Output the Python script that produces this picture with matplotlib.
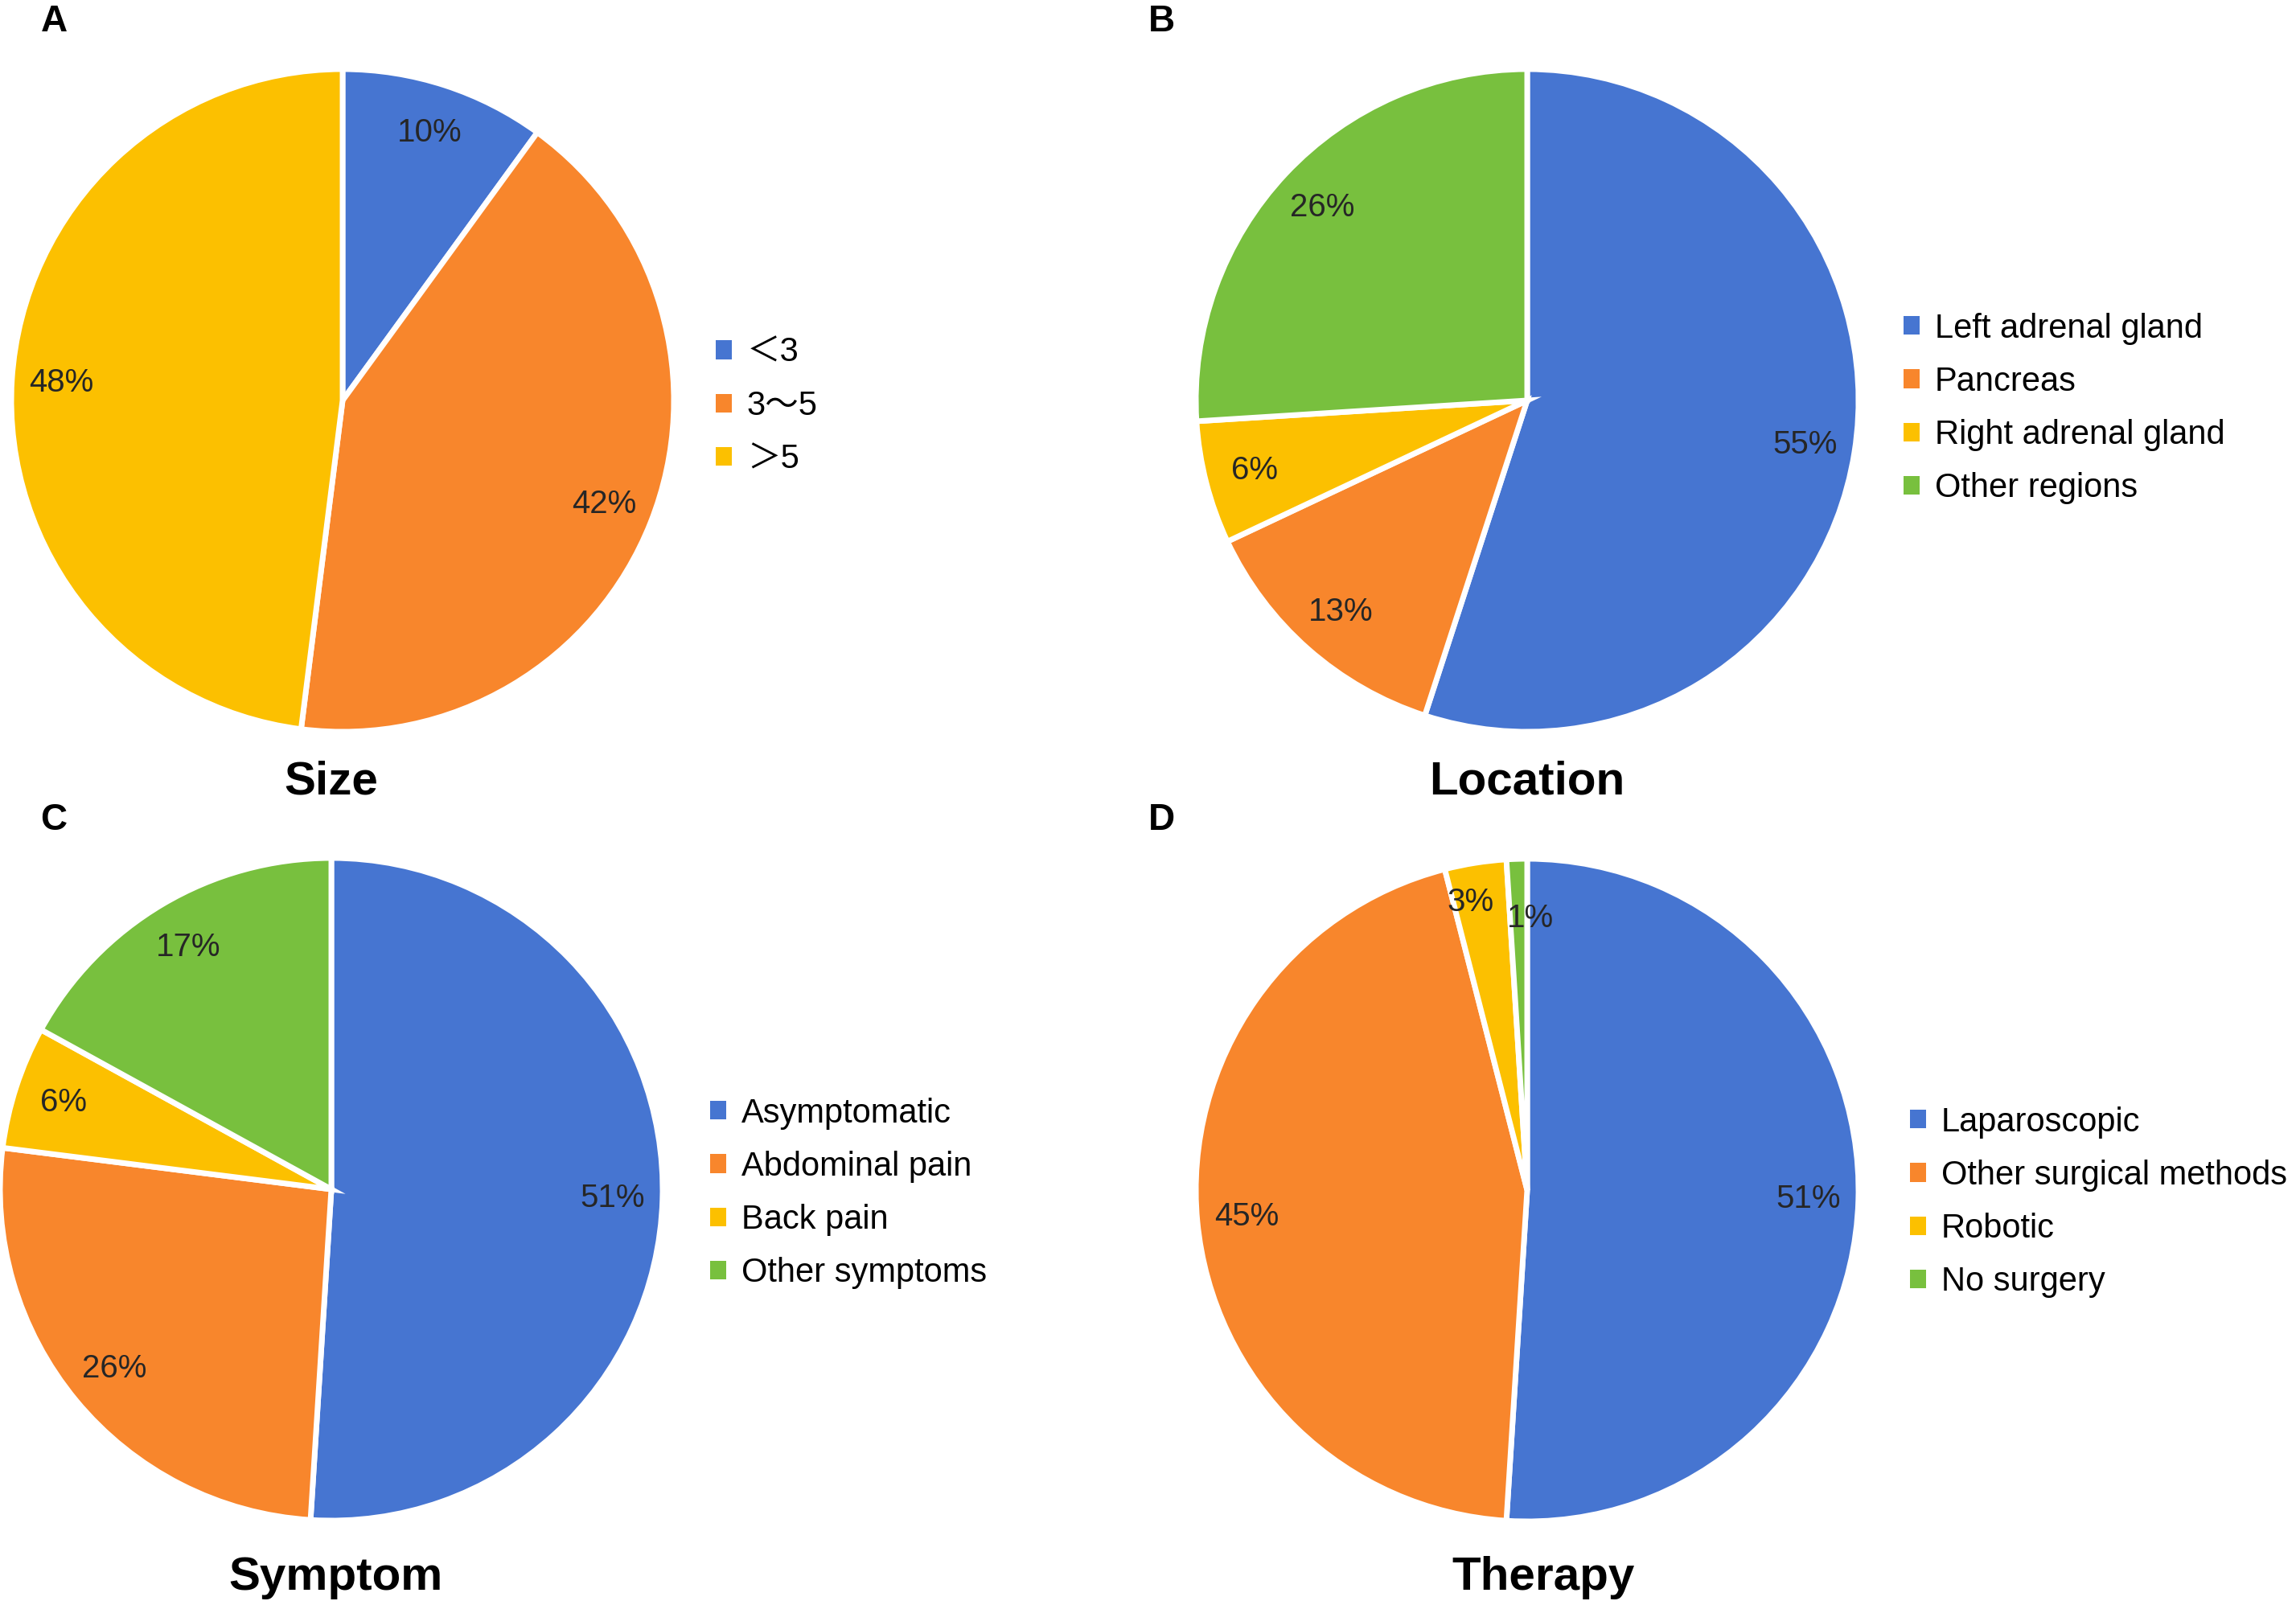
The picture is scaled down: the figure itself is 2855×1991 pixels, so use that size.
import matplotlib.pyplot as plt
from matplotlib.patches import Patch

W, H = 2855, 1991
R = 412

colors = ['#4675D1', '#F8862C', '#FCC000', '#78C03E']

size_labels = ['＜3', '3～5', '＞5']
size_values = [10, 42, 48]

location_labels = ['Left adrenal gland', 'Pancreas', 'Right adrenal gland', 'Other regions']
location_values = [55, 13, 6, 26]

symptom_labels = ['Asymptomatic', 'Abdominal pain', 'Back pain', 'Other symptoms']
symptom_values = [51, 26, 6, 17]

therapy_labels = ['Laparoscopic', 'Other surgical methods', 'Robotic', 'No surgery']
therapy_values = [51, 45, 3, 1]

plt.rcParams['font.family'] = ['Liberation Sans', 'Noto Sans CJK SC', 'DejaVu Sans']

fig = plt.figure(figsize=(W / 100, H / 100), dpi=100)


def pie(cx, cy, values, labels, title, tx, ty, letter, lx, ly, legx, legy):
    ax = fig.add_axes([(cx - R) / W, (H - cy - R) / H, 2 * R / W, 2 * R / H])
    wedges, texts, autotexts = ax.pie(
        values, colors=colors[:len(values)], startangle=90, counterclock=False,
        autopct='%.0f%%', pctdistance=0.85,
        wedgeprops=dict(edgecolor='white', linewidth=5),
        textprops=dict(fontsize=29, color='#262626'))
    ax.set_xlim(-1, 1)
    ax.set_ylim(-1, 1)
    handles = [Patch(facecolor=c, edgecolor='none') for c in colors[:len(values)]]
    ax.legend(handles, labels, loc='center left',
              bbox_to_anchor=(legx / W, 1 - legy / H), bbox_transform=fig.transFigure,
              frameon=False, fontsize=30, handlelength=0.48, handleheight=0.48,
              handletextpad=0.45, labelspacing=0.63, borderpad=0, borderaxespad=0)
    fig.text(tx / W, 1 - ty / H, title, fontsize=42, fontweight='bold',
             ha='center', va='baseline')
    fig.text(lx / W, 1 - ly / H, letter, fontsize=33, fontweight='bold',
             ha='center', va='center')
    return autotexts


pie(426, 498, size_values, size_labels, 'Size', 412, 987, 'A', 67, 27, 890, 505)
pie(1899, 498, location_values, location_labels, 'Location', 1899, 987, 'B', 1444, 27, 2367, 508)
pie(412, 1479, symptom_values, symptom_labels, 'Symptom', 417, 1977, 'C', 67, 1020, 883, 1484)
at = pie(1899, 1480, therapy_values, therapy_labels, 'Therapy', 1919, 1977, 'D', 1444, 1020, 2375, 1495)
# small slices: labels sit like in the original, nudged apart
at[2].set_position((-0.17, 0.87))
at[3].set_position((0.01, 0.82))

fig.savefig('out.png', dpi=100)
